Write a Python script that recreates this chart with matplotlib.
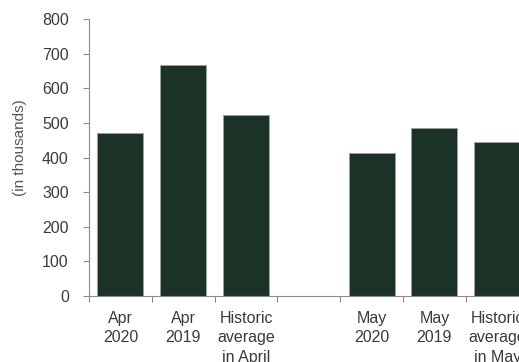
import matplotlib
matplotlib.use('Agg')
import matplotlib.pyplot as plt
import numpy as np

plt.rcParams['font.family'] = ['Liberation Sans', 'DejaVu Sans']

# Data (in thousands)
categories = ['Apr\n2020', 'Apr\n2019', 'Historic\naverage\nin April', '',
              'May\n2020', 'May\n2019', 'Historic\naverage\nin May']
values = [471, 667, 523, 0, 413, 486, 445]

bar_color = '#1c3226'
axis_color = '#8c8c8c'
text_color = '#3a3a3a'

fig = plt.figure(figsize=(5.19, 3.62), dpi=100)
# axes run past the right edge, as in the cropped original
ax = fig.add_axes([89 / 519, 66 / 362, (8 * 62.8) / 519, (296 - 19) / 362])

x = np.arange(len(categories))
vals = np.array(values, dtype=float)
mask = vals > 0
ax.bar(x[mask], vals[mask], width=0.73, color=bar_color,
       edgecolor='#9aa39c', linewidth=0.6)

ax.set_xlim(-0.5, 7.5)
ax.set_ylim(0, 800)
ax.set_yticks(range(0, 801, 100))

ax.set_xticks(x)
ax.set_xticklabels(categories, fontsize=11.5, color=text_color, linespacing=1.35)
ax.set_xticks(np.arange(-0.5, 7.6, 1), minor=True)
ax.tick_params(axis='x', which='major', length=0, pad=11)
ax.tick_params(axis='x', which='minor', length=4.5, color=axis_color, width=0.8)
ax.tick_params(axis='y', length=4.5, color=axis_color, width=0.8,
               labelsize=11.5, labelcolor=text_color, pad=10)

for side in ['top', 'right']:
    ax.spines[side].set_visible(False)
for side in ['left', 'bottom']:
    ax.spines[side].set_color(axis_color)
    ax.spines[side].set_linewidth(0.8)

ax.set_ylabel('(in thousands)', fontsize=11, color='#555555')
ax.yaxis.set_label_coords(-0.123, 0.536)

fig.savefig('out.png', dpi=100, facecolor='white')
